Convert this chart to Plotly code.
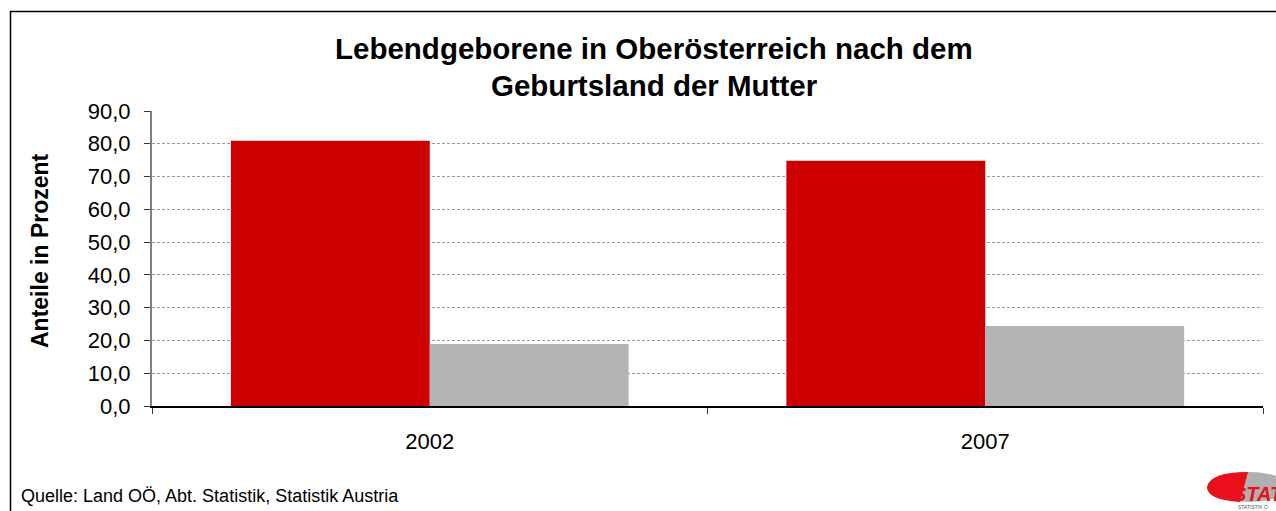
import plotly.graph_objects as go

categories = ["2002", "2007"]
series_names = ["Österreich", "Ausland"]
values_austria = [80.9, 74.8]
values_abroad = [18.9, 24.4]
y_tick_vals = [0, 10, 20, 30, 40, 50, 60, 70, 80, 90]
y_tick_text = ["0,0", "10,0", "20,0", "30,0", "40,0", "50,0", "60,0", "70,0", "80,0", "90,0"]

W, H = 1276, 511
L, R, T, B = 152, 13, 111, 105
PW, PH = W - L - R, H - T - B

def px(x):
    return (x - L) / PW

def py(y):
    return (H - B - y) / PH

FONT = "Liberation Sans, Arial, sans-serif"

fig = go.Figure()
fig.add_trace(go.Bar(x=categories, y=values_austria, name=series_names[0],
                     marker=dict(color="#cc0000", line=dict(width=0))))
fig.add_trace(go.Bar(x=categories, y=values_abroad, name=series_names[1],
                     marker=dict(color="#b3b3b3", line=dict(width=0))))

fig.update_layout(
    width=W, height=H,
    margin=dict(l=L, r=R, t=T, b=B, pad=0),
    paper_bgcolor="white", plot_bgcolor="white",
    barmode="group", bargap=0.284, bargroupgap=0,
    showlegend=False,
    font=dict(family=FONT, color="black", size=22),
    xaxis=dict(
        showline=True, linecolor="black", linewidth=1.5,
        ticks="outside", tickson="boundaries", ticklen=6, tickcolor="#333333",
        tickfont=dict(size=22), showgrid=False, zeroline=False,
        ticklabelstandoff=15,
    ),
    yaxis=dict(
        range=[0, 90], tickvals=y_tick_vals, ticktext=y_tick_text,
        showline=True, linecolor="#808080", linewidth=2,
        ticks="outside", ticklen=6, tickcolor="#333333",
        tickfont=dict(size=22), ticklabelstandoff=9,
        showgrid=True, gridcolor="#9a9a9a", gridwidth=1, griddash="3px,2px",
        zeroline=False,
    ),
)

# Title lines
fig.add_annotation(text="<b>Lebendgeborene in Oberösterreich nach dem</b>",
                   xref="paper", yref="paper", x=px(654), y=py(48),
                   xanchor="center", yanchor="middle", showarrow=False,
                   font=dict(size=29.5, family=FONT))
fig.add_annotation(text="<b>Geburtsland der Mutter</b>",
                   xref="paper", yref="paper", x=px(654), y=py(85),
                   xanchor="center", yanchor="middle", showarrow=False,
                   font=dict(size=29.5, family=FONT))
# Y axis title
fig.add_annotation(text="<b>Anteile in Prozent</b>",
                   xref="paper", yref="paper", x=px(40), y=py(251),
                   xanchor="center", yanchor="middle", showarrow=False,
                   textangle=-90, font=dict(size=23, family=FONT))
# Source
fig.add_annotation(text="Quelle: Land OÖ, Abt. Statistik, Statistik Austria",
                   xref="paper", yref="paper", x=px(19), y=py(496),
                   xanchor="left", yanchor="middle", showarrow=False,
                   font=dict(size=18, family=FONT))

# Outer frame
fig.add_shape(type="rect", xref="paper", yref="paper",
              x0=px(10.5), x1=px(1290), y0=py(11.5), y1=py(530),
              line=dict(color="black", width=1.5), fillcolor="rgba(0,0,0,0)", layer="below")

# Logo approximation
fig.add_shape(type="circle", xref="paper", yref="paper",
              x0=px(1207), x1=px(1290), y0=py(472), y1=py(502),
              line=dict(width=0), fillcolor="#b0b0b0", layer="above")
fig.add_shape(type="path", xref="paper", yref="paper",
              path=f"M {px(1207)} {py(487)} Q {px(1210)} {py(472)} {px(1248)} {py(472)} L {px(1240)} {py(502)} Q {px(1207)} {py(500)} {px(1207)} {py(487)} Z",
              line=dict(width=0), fillcolor="#e8101a", layer="above")
fig.add_annotation(text="<b><i>STAT</i></b>", xref="paper", yref="paper",
                   x=px(1231), y=py(494), xanchor="left", yanchor="middle",
                   showarrow=False, font=dict(size=20, color="#e8101a", family=FONT))
fig.add_annotation(text="STATISTIK Ö", xref="paper", yref="paper",
                   x=px(1236), y=py(507), xanchor="left", yanchor="middle",
                   showarrow=False, font=dict(size=5, color="#555555", family=FONT))

fig.write_html("out.html",
               config={"displayModeBar": False},
               post_script="document.body.style.margin='0';document.body.style.overflow='hidden';")
